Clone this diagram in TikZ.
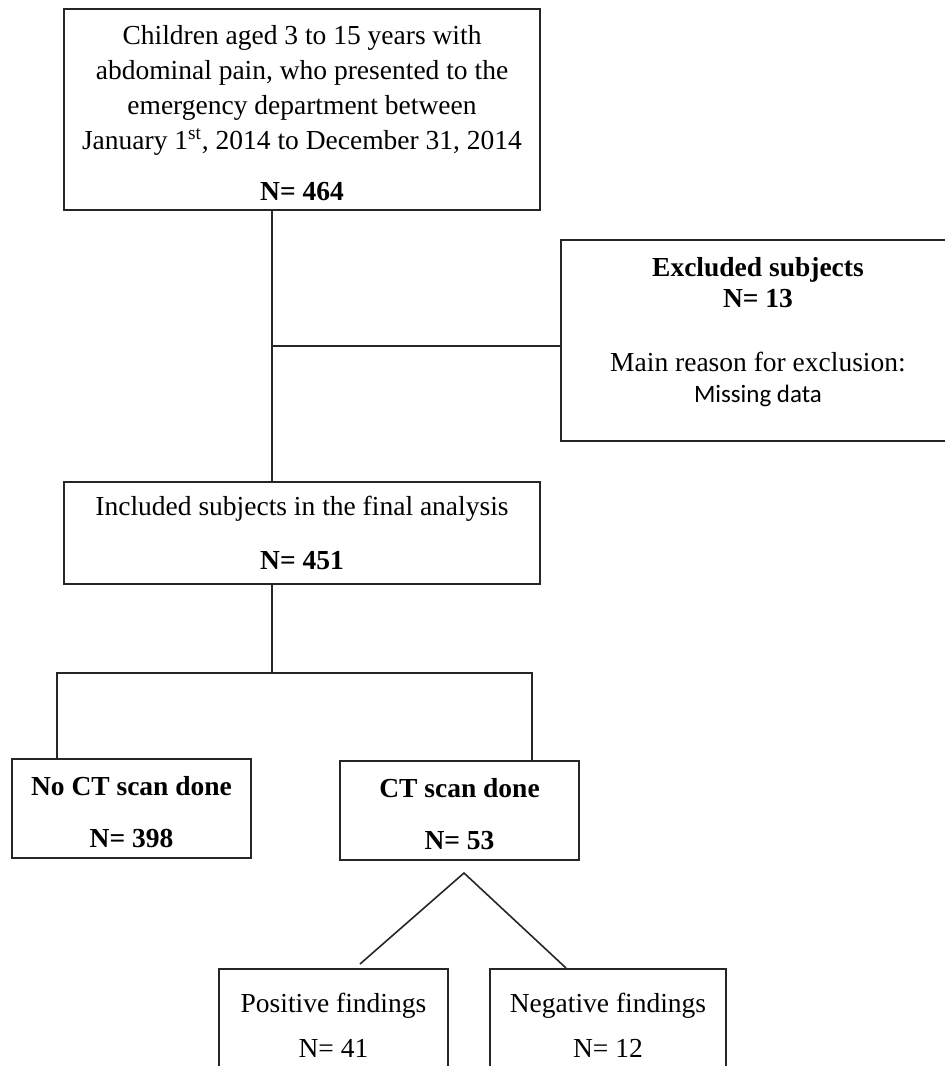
\documentclass[tikz,border=0pt]{standalone}
\usepackage{fontspec}
\setmainfont{Liberation Serif}
\newfontfamily\calfont{Carlito}
\usetikzlibrary{positioning}
\tikzstyle{box} = [draw=black!85, line width=0.8pt, rectangle, align=center, inner sep=0pt, font=\fontsize{13.75}{17.5}\selectfont]
\tikzstyle{boxtext} = [align=center, inner sep=0pt, font=\fontsize{13.75}{17.5}\selectfont]
\tikzstyle{link} = [draw=black!85, line width=0.8pt]

\begin{document}
\begin{tikzpicture}[x=0.5pt,y=-0.5pt]
      \useasboundingbox (0,0) rectangle (945,1066);
      \clip (0,0) rectangle (945,1066);
      \node[box, minimum width=238pt, minimum height=100.5pt] (all) at (302,109.5) {};
      \node[boxtext] (alltext) at ([yshift=-2pt]all.center) {Children aged 3 to 15 years with\\abdominal pain, who presented to the\\emergency department between\\January 1\textsuperscript{st}, 2014 to December 31, 2014\\[8pt]\textbf{N= 464}};
      \node[box, minimum width=202pt, minimum height=100.5pt] (excl) at (763,340.5) {};
      \node[boxtext] (excltext) at ([xshift=-2.5pt,yshift=4pt]excl.center) {\textbf{Excluded subjects}\\[-2pt]\textbf{N= 13}\\[14.5pt]Main reason for exclusion:\\[-2pt]{\calfont\fontsize{12.5}{15}\selectfont Missing data}};
      \node[box, minimum width=238pt, minimum height=51pt] (incl) at (302,533) {Included subjects in the final analysis\\[9.5pt]\textbf{N= 451}};
      \node[box, minimum width=119.5pt, minimum height=49.5pt] (noct) at (131.5,808.5) {};
      \node[boxtext] (nocttext) at ([yshift=-2pt]noct.center) {\textbf{No CT scan done}\\[8.5pt]\textbf{N= 398}};
      \node[box, minimum width=119.5pt, minimum height=49.5pt] (ct) at (459.5,810.5) {};
      \node[boxtext] (cttext) at ([yshift=-1.75pt]ct.center) {\textbf{CT scan done}\\[8.5pt]\textbf{N= 53}};
      \node[box, minimum width=114.5pt, minimum height=56pt] (pos) at (333.5,1025) {Positive findings\\[5pt]N= 41};
      \node[box, minimum width=118pt, minimum height=56pt] (neg) at (608,1025) {Negative findings\\[5pt]N= 12};
      \coordinate (excljoin) at (272,346);
      \coordinate (fork) at (272,673);
      \coordinate (noctdrop) at (57,673);
      \coordinate (ctdrop) at (532,673);
      \coordinate (apex) at (464,873);
      \coordinate (posend) at (360,964);
      \coordinate (negend) at (566,968);
      \draw[link] (all.south -| excljoin) -- (incl.north -| excljoin);
      \draw[link] (excljoin) -- (excljoin -| excl.west);
      \draw[link] (incl.south -| fork) -- (fork);
      \draw[link] (noctdrop |- noct.north) -- (noctdrop) -- (ctdrop) -- (ctdrop |- ct.north);
      \draw[link] (posend) -- (apex) -- (negend);
    \end{tikzpicture}
\end{document}
